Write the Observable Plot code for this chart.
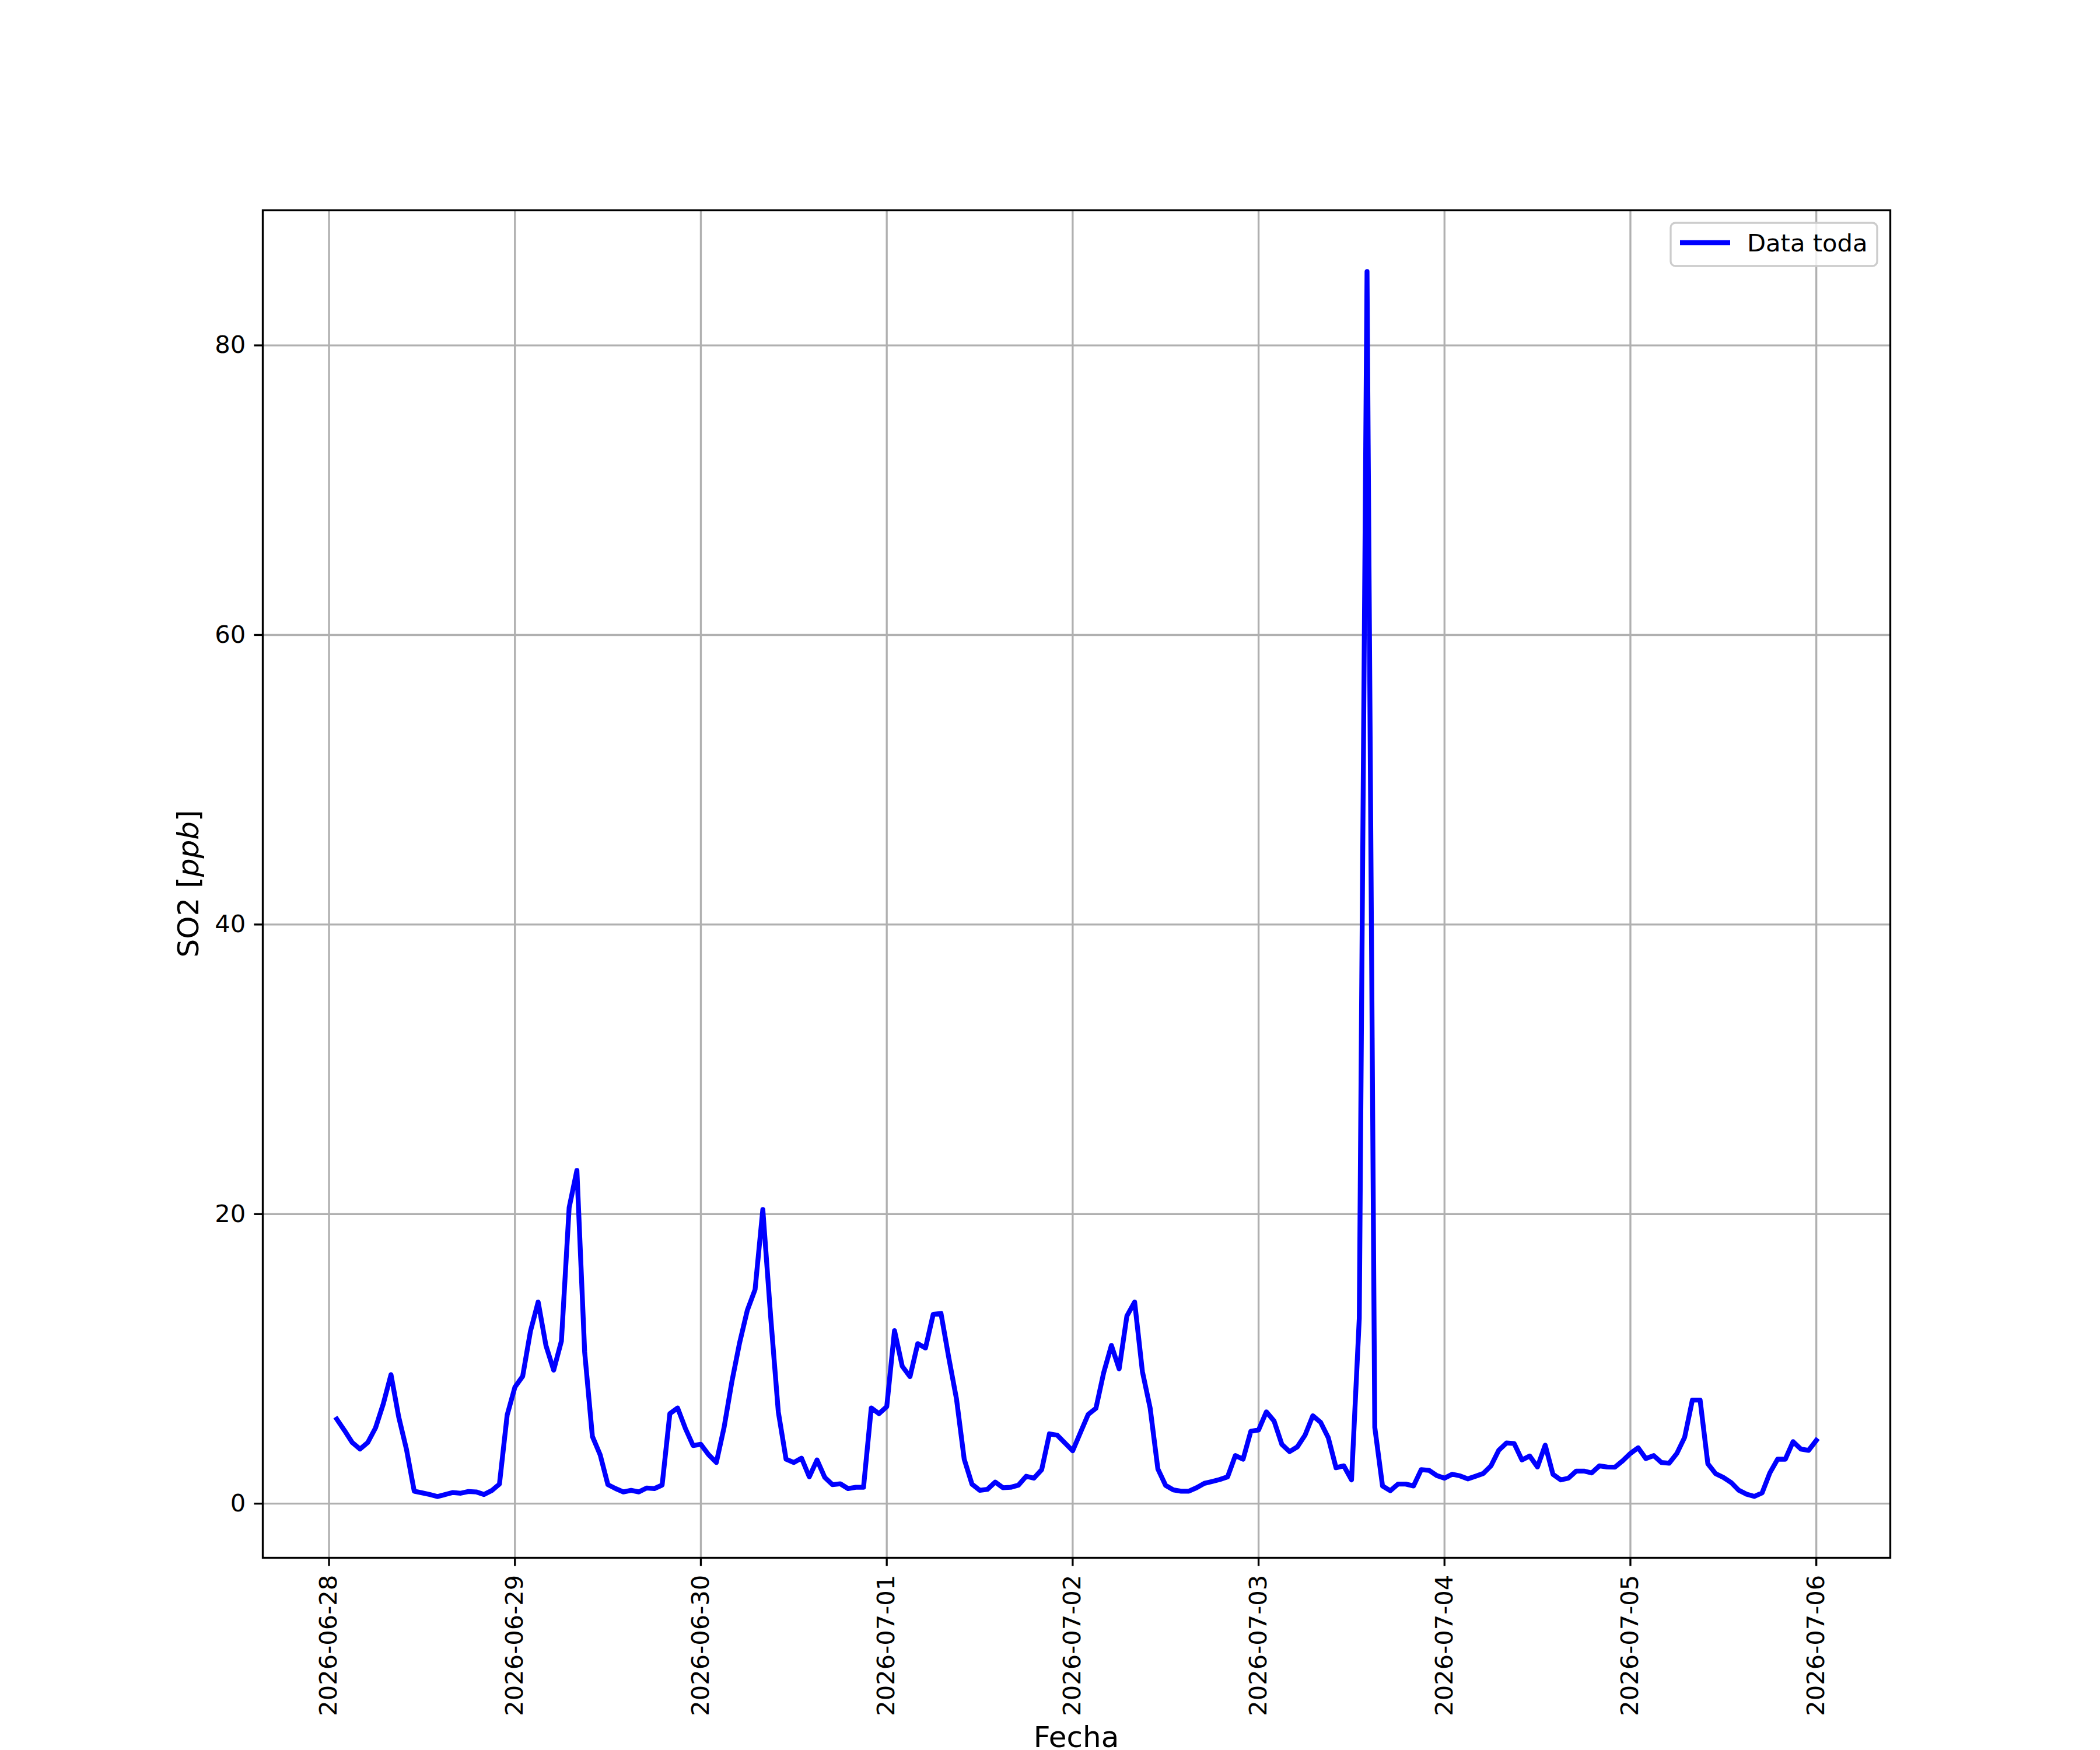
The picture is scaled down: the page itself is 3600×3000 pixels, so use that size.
<!DOCTYPE html>
<html>
<head>
<meta charset="utf-8">
<script src="https://cdn.jsdelivr.net/npm/d3@7"></script>
<script src="https://cdn.jsdelivr.net/npm/@observablehq/plot@0.6"></script>
<style>
  html, body { margin: 0; padding: 0; background: white; }
</style>
</head>
<body>
<div id="chart"></div>
<script>
// Hourly SO2 readings (ppb), first reading 2026-06-28 01:00, one per hour
const seriesStart = "2026-06-28T01:00:00Z";
const so2 = [
  5.84, 5.05, 4.22, 3.77, 4.22, 5.23, 6.88, 8.91, 5.98, 3.74, 0.86, 0.75,
  0.63, 0.49, 0.63, 0.77, 0.72, 0.84, 0.81, 0.63, 0.90, 1.35, 6.13, 8.05,
  8.80, 11.9, 13.93, 10.93, 9.22, 11.23, 20.45, 23.02, 10.48, 4.64, 3.38, 1.31,
  1.04, 0.81, 0.92, 0.81, 1.08, 1.04, 1.28, 6.22, 6.61, 5.2, 4.01, 4.10,
  3.38, 2.84, 5.27, 8.41, 11.1, 13.35, 14.79, 20.32, 13.0, 6.34, 3.07, 2.84,
  3.14, 1.85, 3.02, 1.81, 1.31, 1.37, 1.04, 1.13, 1.13, 6.61, 6.22, 6.70,
  11.95, 9.49, 8.77, 11.05, 10.75, 13.08, 13.14, 10.1, 7.24, 3.07, 1.35, 0.92,
  0.99, 1.49, 1.10, 1.13, 1.28, 1.89, 1.76, 2.35, 4.82, 4.73, 4.19, 3.65,
  4.91, 6.16, 6.58, 9.04, 10.93, 9.31, 12.96, 13.93, 9.13, 6.61, 2.39, 1.26,
  0.95, 0.86, 0.86, 1.10, 1.40, 1.53, 1.67, 1.85, 3.32, 3.07, 5.00, 5.09,
  6.34, 5.71, 4.10, 3.59, 3.92, 4.73, 6.07, 5.62, 4.55, 2.48, 2.61, 1.64,
  12.8, 85.1, 5.27, 1.22, 0.89, 1.35, 1.35, 1.22, 2.35, 2.30, 1.94, 1.76,
  2.03, 1.92, 1.71, 1.89, 2.08, 2.61, 3.68, 4.19, 4.15, 3.02, 3.29, 2.53,
  4.04, 2.03, 1.64, 1.76, 2.25, 2.25, 2.12, 2.61, 2.53, 2.52, 2.96, 3.47,
  3.86, 3.11, 3.32, 2.84, 2.79, 3.47, 4.58, 7.15, 7.15, 2.75, 2.07, 1.81,
  1.46, 0.92, 0.65, 0.50, 0.74, 2.12, 3.07, 3.07, 4.28, 3.77, 3.68, 4.37
];
const xTickLabels = ["2026-06-28", "2026-06-29", "2026-06-30", "2026-07-01", "2026-07-02",
                     "2026-07-03", "2026-07-04", "2026-07-05", "2026-07-06"];
const yTicks = [0, 20, 40, 60, 80];
const seriesName = "Data toda";
const xLabel = "Fecha";

const t0 = new Date(seriesStart).getTime();
const data = so2.map((v, i) => ({ t: new Date(t0 + i * 3600e3), v }));
const parse = d3.utcParse("%Y-%m-%d");
const xTicks = xTickLabels.map(parse);

const [ta, tb] = d3.extent(data, d => d.t.getTime());
const tpad = (tb - ta) * 0.05;
const [va, vb] = d3.extent(so2);
const vpad = (vb - va) * 0.05;

const FS = 41.67;
const LW = 3.33;
const DATA_LW = 8.33;

const svg = Plot.plot({
  width: 3600,
  height: 3000,
  marginLeft: 450,
  marginRight: 360,
  marginTop: 360,
  marginBottom: 330,
  style: { fontFamily: "DejaVu Sans", fontSize: FS + "px", background: "white", color: "black", overflow: "visible" },
  x: { type: "utc", domain: [new Date(ta - tpad), new Date(tb + tpad)] },
  y: { domain: [va - vpad, vb + vpad] },
  marks: [
    Plot.gridX(xTicks, { stroke: "#b0b0b0", strokeOpacity: 1, strokeWidth: LW }),
    Plot.gridY(yTicks, { stroke: "#b0b0b0", strokeOpacity: 1, strokeWidth: LW }),
    Plot.lineY(data, { x: "t", y: "v", stroke: "blue", strokeWidth: DATA_LW, strokeLinejoin: "round", strokeLinecap: "square" }),
    Plot.frame({ stroke: "black", strokeWidth: LW }),
    Plot.axisX(xTicks, {
      tickFormat: d3.utcFormat("%Y-%m-%d"), tickRotate: -90, tickSize: 14.6, tickPadding: 14.6,
      strokeWidth: LW, fontSize: FS, label: null
    }),
    Plot.axisY(yTicks, {
      tickSize: 14.6, tickPadding: 14.6, strokeWidth: LW, fontSize: FS, label: null
    })
  ]
});

const s = d3.select(svg);
// x label
s.append("text")
  .attr("x", 1845).attr("y", 2995)
  .attr("text-anchor", "middle")
  .attr("font-family", "DejaVu Sans").attr("font-size", 50)
  .attr("fill", "black")
  .text(xLabel);
// y label with italic unit
const yl = s.append("text")
  .attr("transform", "translate(340,1515) rotate(-90)")
  .attr("text-anchor", "middle")
  .attr("font-family", "DejaVu Sans").attr("font-size", 50)
  .attr("fill", "black");
yl.append("tspan").text("SO2 [");
yl.append("tspan").attr("font-style", "italic").text("ppb");
yl.append("tspan").text("]");

// legend
const lg = s.append("g");
lg.append("rect")
  .attr("x", 2864).attr("y", 382).attr("width", 354).attr("height", 74)
  .attr("rx", 8).attr("ry", 8)
  .attr("fill", "white").attr("fill-opacity", 0.8)
  .attr("stroke", "#cccccc").attr("stroke-width", LW);
lg.append("line")
  .attr("x1", 2880).attr("x2", 2966).attr("y1", 416).attr("y2", 416)
  .attr("stroke", "blue").attr("stroke-width", DATA_LW).attr("stroke-linecap", "butt");
lg.append("text")
  .attr("x", 2995).attr("y", 431)
  .attr("text-anchor", "start")
  .attr("font-family", "DejaVu Sans").attr("font-size", FS)
  .attr("fill", "black")
  .text(seriesName);

document.getElementById("chart").appendChild(svg);
</script>
</body>
</html>
